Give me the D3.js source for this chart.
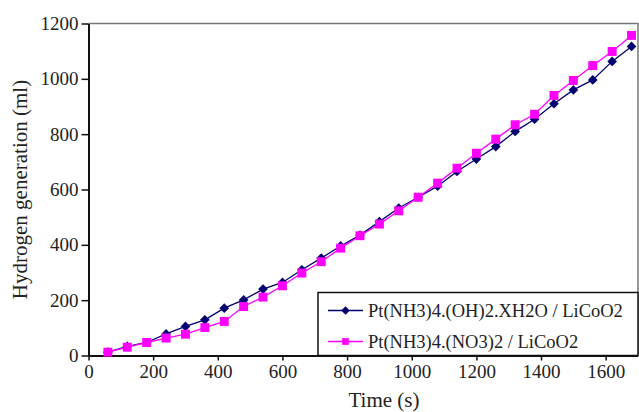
<!DOCTYPE html>
<html>
<head>
<meta charset="utf-8">
<script src="https://cdn.jsdelivr.net/npm/d3@7"></script>
<style>
  html, body { margin: 0; padding: 0; background: #fff; }
  svg { display: block; }
  text { font-family: "Liberation Serif", "Times New Roman", serif; fill: #222; }
</style>
</head>
<body>
<svg id="chart" width="639" height="412"></svg>
<script>
// Sampling times (s)
const times = [60,120,180,240,300,360,420,480,540,600,660,720,780,840,900,960,1020,1080,1140,1200,1260,1320,1380,1440,1500,1560,1620,1680];
// Hydrogen volume (ml) for each catalyst precursor
const hydroxideSeries = [12,33,47,78,105,129,171,201,240,264,310,352,396,435,484,533,572,612,665,710,755,810,854,910,960,996,1063,1117];
const nitrateSeries   = [12,30,47,63,77,101,123,177,211,252,298,339,388,433,475,523,572,623,677,731,782,834,872,940,994,1048,1099,1157];
const seriesNames = ["Pt(NH3)4.(OH)2.XH2O / LiCoO2", "Pt(NH3)4.(NO3)2 / LiCoO2"];
const xTicks = [0,200,400,600,800,1000,1200,1400,1600];
const yTicks = [0,200,400,600,800,1000,1200];

const svg = d3.select("#chart");
const plotLeft = 88.5, plotRight = 638, plotTop = 23.5, plotBottom = 355.5;

const x = d3.scaleLinear().domain([0, 1700]).range([plotLeft, plotRight]);
const y = d3.scaleLinear().domain([0, 1200]).range([plotBottom, plotTop]);

// Plot frame (top and right edges in grey)
svg.append("path")
  .attr("d", `M${plotLeft},${plotTop}H${plotRight}V${plotBottom}`)
  .attr("fill", "none").attr("stroke", "#777").attr("stroke-width", 1.5);

// Axes
const fmt = d3.format("d");
const yAxis = svg.append("g").attr("transform", `translate(${plotLeft},0)`)
  .call(d3.axisLeft(y).tickValues(yTicks).tickFormat(fmt).tickSize(7).tickSizeOuter(0).tickPadding(3));
const xAxis = svg.append("g").attr("transform", `translate(0,${plotBottom})`)
  .call(d3.axisBottom(x).tickValues(xTicks).tickFormat(fmt).tickSize(5).tickSizeOuter(0).tickPadding(4));
[xAxis, yAxis].forEach(g => {
  g.select(".domain").attr("stroke", "#111").attr("stroke-width", 2);
  g.selectAll(".tick line").attr("stroke", "#111").attr("stroke-width", 1.5);
  g.selectAll(".tick text").style("font-family", "Liberation Serif, serif").style("font-size", "19px").attr("fill", "#222");
});
xAxis.select(".domain").attr("d", `M${plotLeft},0.5H${plotRight}`);

// Axis titles
svg.append("text").attr("x", 384).attr("y", 407)
  .attr("text-anchor", "middle").style("font-size", "21px").text("Time (s)");
svg.append("text").attr("transform", `translate(27,${(plotTop + plotBottom) / 2}) rotate(-90)`)
  .attr("text-anchor", "middle").style("font-size", "21px").text("Hydrogen generation (ml)");

const diamond = d3.symbol().type(d3.symbolDiamond2);
const square = d3.symbol().type(d3.symbolSquare);

const series = [
  { values: hydroxideSeries, color: "#000070", symbol: diamond, size: 60, legSize: 45 },
  { values: nitrateSeries,   color: "#ff00ff", symbol: square,  size: 80, legSize: 45 }
];

const line = d3.line().x(d => x(d[0])).y(d => y(d[1]));

series.forEach(s => {
  const pts = times.map((t, i) => [t, s.values[i]]);
  svg.append("path").datum(pts).attr("d", line)
    .attr("fill", "none").attr("stroke", s.color).attr("stroke-width", 1.3);
  svg.append("g").selectAll("path").data(pts).join("path")
    .attr("transform", d => `translate(${x(d[0])},${y(d[1])})`)
    .attr("d", s.symbol.size(s.size)())
    .attr("fill", s.color);
});

// Legend
const legX = 318, legY = 292.5, legW = 320, legH = 63;
svg.append("rect").attr("x", legX).attr("y", legY).attr("width", legW).attr("height", legH)
  .attr("fill", "#fff").attr("stroke", "#111").attr("stroke-width", 1.5);
series.forEach((s, i) => {
  const cy = legY + 18 + i * 31;
  svg.append("line").attr("x1", legX + 10).attr("x2", legX + 45).attr("y1", cy).attr("y2", cy)
    .attr("stroke", s.color).attr("stroke-width", 1.3);
  svg.append("path").attr("transform", `translate(${legX + 27.5},${cy})`)
    .attr("d", s.symbol.size(s.legSize)()).attr("fill", s.color);
  svg.append("text").attr("x", legX + 50).attr("y", cy + 6.5)
    .style("font-size", "18.5px").text(seriesNames[i]);
});
</script>
</body>
</html>
